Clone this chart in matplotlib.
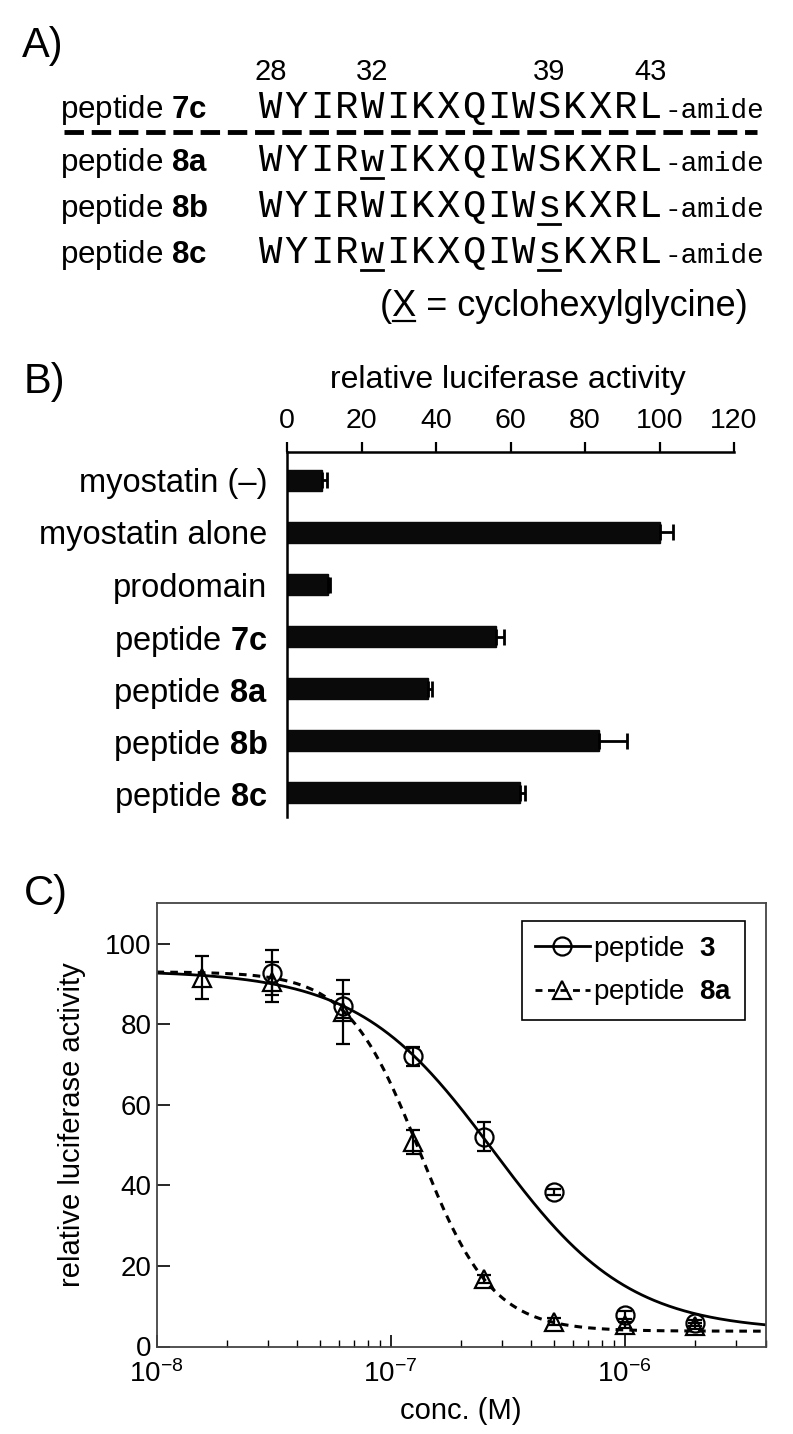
import numpy as np
import matplotlib
matplotlib.use("Agg")
import matplotlib.pyplot as plt
from matplotlib.lines import Line2D

plt.rcParams['font.family'] = ['Liberation Sans', 'DejaVu Sans']
plt.rcParams['mathtext.fontset'] = 'custom'
plt.rcParams['mathtext.rm'] = 'Liberation Sans'
plt.rcParams['mathtext.bf'] = 'Liberation Sans:bold'
plt.rcParams['mathtext.it'] = 'Liberation Sans:italic'
plt.rcParams['axes.unicode_minus'] = False

# ---------------- data ----------------
# Panel A
seq_names = ["7c", "8a", "8b", "8c"]
sequences = ["WYIRWIKXQIWSKXRL", "WYIRwIKXQIWSKXRL", "WYIRWIKXQIWsKXRL", "WYIRwIKXQIWsKXRL"]
residue_numbers = [28, 32, 39, 43]
first_residue = 28

# Panel B
categories = ["myostatin (\u2013)", "myostatin alone", "prodomain",
              "peptide $\\mathbf{7c}$", "peptide $\\mathbf{8a}$",
              "peptide $\\mathbf{8b}$", "peptide $\\mathbf{8c}$"]
activity = [9.5, 100.0, 11.0, 56.2, 37.8, 83.8, 62.5]
activity_err = [1.3, 3.5, 0.6, 2.0, 1.2, 7.4, 1.3]
b_ticks = [0, 20, 40, 60, 80, 100, 120]

# Panel C
conc = [1.5625e-8, 3.125e-8, 6.25e-8, 1.25e-7, 2.5e-7, 5e-7, 1e-6, 2e-6]
pep3 = [None, 92.8, 84.5, 72.0, 52.0, 38.3, 7.8, 5.8]
pep3_err = [None, 5.5, 3.0, 2.3, 3.6, 0.7, 1.0, 0.8]
pep8a = [91.5, 90.5, 83.0, 50.8, 16.8, 6.2, 5.3, 5.1]
pep8a_err = [5.3, 5.0, 8.0, 3.0, 1.0, 0.8, 0.8, 0.8]
# fitted four-parameter logistic curves (top, bottom, IC50, Hill slope)
fit3 = dict(top=93.3, bottom=3.8, ic50=2.75e-7, hill=1.5)
fit8a = dict(top=93.0, bottom=3.8, ic50=1.33e-7, hill=2.8)
c_yticks = [0, 20, 40, 60, 80, 100]

# ---------------- figure ----------------
W, H = 793, 1434
fig = plt.figure(figsize=(W / 100, H / 100), dpi=100)
ov = fig.add_axes([0, 0, 1, 1])
ov.set_xlim(0, W)
ov.set_ylim(H, 0)
ov.axis('off')

# panel letters
for lab, (px, py) in zip(["A)", "B)", "C)"], [(22, 46), (24, 382), (24, 894)]):
    ov.text(px, py, lab, fontsize=30, ha='left', va='center')

# ---------------- Panel A ----------------
row_base = [118, 171, 217, 263]
seq_x0, pitch = 271, 25.3
mono = 'Liberation Mono'
for r, (name, seq) in enumerate(zip(seq_names, sequences)):
    yb = row_base[r]
    ov.text(60, yb, "peptide $\\mathbf{%s}$" % name, fontsize=22.5, ha='left', va='baseline')
    for i, ch in enumerate(seq):
        cx = seq_x0 + pitch * i
        ov.text(cx, yb, ch, family=mono, fontsize=28, ha='center', va='baseline')
        if ch.islower():
            ov.plot([cx - 11, cx + 11], [yb + 7, yb + 7], color='black', lw=2)
    ov.text(seq_x0 + pitch * (len(seq) - 0.5) + 1, yb, "-amide", family=mono, fontsize=20,
            ha='left', va='baseline')

for num in residue_numbers:
    cx = seq_x0 + pitch * (num - first_residue)
    ov.text(cx, 72, str(num), fontsize=21, ha='center', va='center')

ov.plot([64, 757], [132, 132], color='black', lw=3.5, linestyle=(0, (4, 1.6)),
        solid_capstyle='butt', dash_capstyle='butt')

# footnote (X = cyclohexylglycine)
fx, fy = 380, 316
fs_note = 26
t_open = ov.text(fx, fy, "(", fontsize=fs_note, ha='left', va='baseline')
ov.text(fx, fy, "(X = cyclohexylglycine)", fontsize=fs_note, ha='left', va='baseline')
t_x = ov.text(fx, fy, "(X", fontsize=fs_note, ha='left', va='baseline', alpha=0)
fig.canvas.draw()
rend = fig.canvas.get_renderer()
bb_open = t_open.get_window_extent(rend)
bb_x = t_x.get_window_extent(rend)
t_open.set_alpha(0)
inv = ov.transData.inverted()
xa = inv.transform((bb_open.x1, 0))[0]
xb = inv.transform((bb_x.x1, 0))[0]
ov.plot([xa + 1, xb - 1], [fy + 5, fy + 5], color='black', lw=1.6)

# ---------------- Panel B ----------------
bx0, bx1, by0, by1 = 287, 734, 452.5, 816.7
axb = fig.add_axes([bx0 / W, 1 - by1 / H, (bx1 - bx0) / W, (by1 - by0) / H])
ypos = np.arange(len(categories))
axb.barh(ypos, activity, height=0.40, color='#0a0a0a', edgecolor='#0a0a0a',
         xerr=[np.zeros(len(activity)), activity_err],
         error_kw=dict(ecolor='black', elinewidth=2, capsize=6, capthick=2))
axb.set_xlim(0, 120)
axb.set_ylim(6.457, -0.534)
axb.set_xticks(b_ticks)
axb.xaxis.tick_top()
axb.tick_params(axis='x', direction='out', length=7, width=1.6, labelsize=20.5, pad=6)
axb.set_yticks(ypos)
axb.set_yticklabels(categories, fontsize=23.5)
axb.tick_params(axis='y', length=0, pad=14)
for s in ['right', 'bottom']:
    axb.spines[s].set_visible(False)
for s in ['top', 'left']:
    axb.spines[s].set_linewidth(1.8)
ov.text(508, 380, "relative luciferase activity", fontsize=23, ha='center', va='center')

# ---------------- Panel C ----------------
cx0, cx1, cy0, cy1 = 156.5, 765.5, 903.3, 1346.5
axc = fig.add_axes([cx0 / W, 1 - cy1 / H, (cx1 - cx0) / W, (cy1 - cy0) / H])
axc.set_xscale('log')
axc.set_xlim(1e-8, 4e-6)
axc.set_ylim(0, 110)

xx = np.logspace(-8, np.log10(4e-6), 400)
def logistic(x, p):
    return p['bottom'] + (p['top'] - p['bottom']) / (1 + (x / p['ic50']) ** p['hill'])
axc.plot(xx, logistic(xx, fit3), color='black', lw=2.0, zorder=2)
axc.plot(xx, logistic(xx, fit8a), color='black', lw=2.2, linestyle=(0, (2.5, 2)), zorder=2)

c3 = [c for c, v in zip(conc, pep3) if v is not None]
v3 = [v for v in pep3 if v is not None]
e3 = [e for e in pep3_err if e is not None]
axc.errorbar(conc, pep8a, yerr=pep8a_err, fmt='none', ecolor='black', elinewidth=1.6,
             capsize=5, capthick=1.6, zorder=3)
axc.errorbar(c3, v3, yerr=e3, fmt='none', ecolor='black', elinewidth=1.6,
             capsize=5, capthick=1.6, zorder=3)
axc.plot(conc, pep8a, linestyle='none', marker='^', ms=13, mfc='none', mec='black',
         mew=1.6, zorder=4)
axc.plot(c3, v3, linestyle='none', marker='o', ms=13, mfc='none', mec='black',
         mew=1.6, zorder=4)

axc.set_yticks(c_yticks)
axc.tick_params(axis='both', which='major', direction='in', length=9, width=1.2,
                labelsize=20, colors='black')
axc.tick_params(axis='x', which='minor', direction='in', length=5, width=1.0)
axc.tick_params(axis='x', which='major', pad=10)
axc.tick_params(top=False, right=False, which='both')
for s in axc.spines.values():
    s.set_linewidth(1.3)
    s.set_color('#444444')
axc.set_xlabel("conc. (M)", fontsize=21, labelpad=6)
axc.set_ylabel("relative luciferase activity", fontsize=21, labelpad=14)

handles = [Line2D([], [], color='black', lw=2, marker='o', ms=13, mfc='none', mec='black', mew=1.6),
           Line2D([], [], color='black', lw=2, linestyle=(0, (2.5, 2)), marker='^', ms=13,
                  mfc='none', mec='black', mew=1.6)]
leg = axc.legend(handles, ["peptide  $\\mathbf{3}$", "peptide  $\\mathbf{8a}$"],
                 loc='upper right', bbox_to_anchor=(0.966, 0.960), borderaxespad=0,
                 fontsize=20, frameon=True, fancybox=False, framealpha=1,
                 edgecolor='black', handlelength=2.0, handletextpad=0.1,
                 borderpad=0.45, labelspacing=0.5)
leg.get_frame().set_linewidth(1.2)

fig.savefig("out.png", dpi=100)
